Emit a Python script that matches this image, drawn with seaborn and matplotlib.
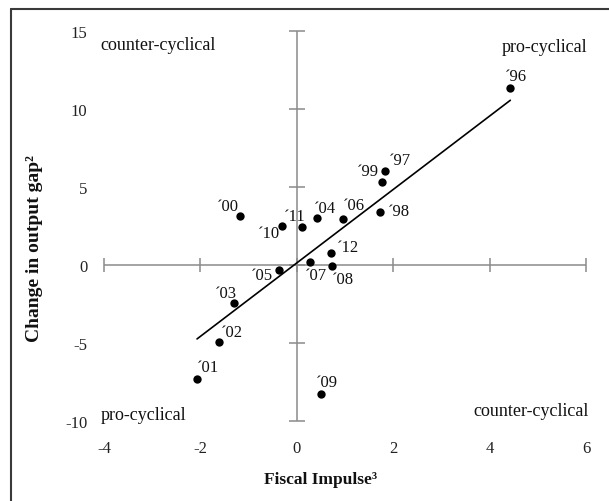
import matplotlib
matplotlib.use("Agg")
import matplotlib.pyplot as plt
from matplotlib.lines import Line2D
import seaborn as sns
import pandas as pd

# ---- data ----
years = ["´96", "´97", "´98", "´99", "´00", "´01", "´02", "´03", "´04",
         "´05", "´06", "´07", "´08", "´09", "´10", "´11", "´12"]
fiscal_impulse = [4.43, 1.84, 1.72, 1.76, -1.18, -2.07, -1.62, -1.31, 0.42,
                  -0.37, 0.95, 0.28, 0.73, 0.50, -0.30, 0.10, 0.71]
output_gap_change = [11.34, 6.00, 3.41, 5.29, 3.17, -7.31, -4.95, -2.44, 3.02,
                     -0.34, 2.94, 0.21, -0.04, -8.25, 2.53, 2.42, 0.77]
x_ticks = [-4, -2, 0, 2, 4, 6]
y_ticks = [-10, -5, 0, 5, 10, 15]
x_label = "Fiscal Impulse³"
y_label = "Change in output gap²"
quadrants = ["counter-cyclical", "pro-cyclical", "pro-cyclical", "counter-cyclical"]

# label offsets (pixels, styling only)
label_offsets = {
    "´96": (5, 12), "´97": (14, 11), "´98": (19, 1), "´99": (-14, 11),
    "´00": (-12, 10), "´01": (11, 12), "´02": (13, 10), "´03": (-8, 10),
    "´04": (8, 10), "´05": (-17, -5), "´06": (11, 14), "´07": (6, -13),
    "´08": (11, -13), "´09": (6, 12), "´10": (-14, -7), "´11": (-7, 11),
    "´12": (17, 6),
}

df = pd.DataFrame({"year": years, "fi": fiscal_impulse, "gap": output_gap_change})

sns.set_style("white")
plt.rcParams["font.family"] = ["Liberation Serif", "DejaVu Serif"]

W, H = 609, 502
fig = plt.figure(figsize=(W / 100, H / 100), dpi=100)
ax = fig.add_axes([104 / W, 1 - 422 / H, (586 - 104) / W, (422 - 32) / H])

axis_grey = "#8a8a8a"
ax.axhline(0, color=axis_grey, lw=1.1, zorder=1)
ax.axvline(0, color=axis_grey, lw=1.1, zorder=1)
ax.plot(x_ticks, [0] * len(x_ticks), ls="none", marker="|", ms=10, mew=1.1,
        color=axis_grey, clip_on=False, zorder=1)
ax.plot([0] * len(y_ticks), y_ticks, ls="none", marker="_", ms=11, mew=1.1,
        color=axis_grey, clip_on=False, zorder=1)

sns.regplot(data=df, x="fi", y="gap", ax=ax, scatter=False, ci=None,
            truncate=True, line_kws=dict(color="black", lw=1.2, zorder=2))
sns.scatterplot(data=df, x="fi", y="gap", ax=ax, color="black", s=36,
                edgecolor="black", linewidth=0, zorder=3, legend=False)

for yr, xv, yv in zip(years, fiscal_impulse, output_gap_change):
    dx, dy = label_offsets[yr]
    ax.annotate(yr, (xv, yv), xytext=(dx, dy), textcoords="offset pixels",
                ha="center", va="center", fontsize=12, color="#111111")

ax.set_xlim(-4, 6)
ax.set_ylim(-10, 15)
ax.set_xticks(x_ticks)
ax.set_yticks(y_ticks)
ax.set_xticklabels([str(v) for v in x_ticks])
ax.set_yticklabels([str(v) for v in y_ticks])
ax.tick_params(axis="x", length=0, pad=14, labelsize=12, labelcolor="#222222")
ax.tick_params(axis="y", length=0, pad=12, labelsize=12, labelcolor="#222222")
for s in ax.spines.values():
    s.set_visible(False)
ax.set_xlabel("")
ax.set_ylabel("")
ax.patch.set_alpha(0)

# quadrant annotations
fig.text(100 / W, 1 - 46 / H, quadrants[0], ha="left", va="center", fontsize=13, color="#111111")
fig.text(587 / W, 1 - 47 / H, quadrants[1], ha="right", va="center", fontsize=13, color="#111111")
fig.text(101 / W, 1 - 415 / H, quadrants[2], ha="left", va="center", fontsize=13, color="#111111")
fig.text(589 / W, 1 - 412 / H, quadrants[3], ha="right", va="center", fontsize=13, color="#111111")

fig.text(321 / W, 1 - 480 / H, x_label, ha="center", va="center",
         fontsize=12.5, fontweight="bold", color="#111111")
fig.text(35 / W, 1 - 249 / H, y_label, ha="center", va="center", rotation=90,
         fontsize=14, fontweight="bold", color="#111111")

# outer frame (top and left edges)
fig.add_artist(Line2D([11 / W, 1], [1 - 10 / H, 1 - 10 / H], color="#3a3a3a", lw=1.5,
                      transform=fig.transFigure))
fig.add_artist(Line2D([11 / W, 11 / W], [0, 1 - 10 / H], color="#3a3a3a", lw=1.5,
                      transform=fig.transFigure))

fig.savefig("out.png", dpi=100)
